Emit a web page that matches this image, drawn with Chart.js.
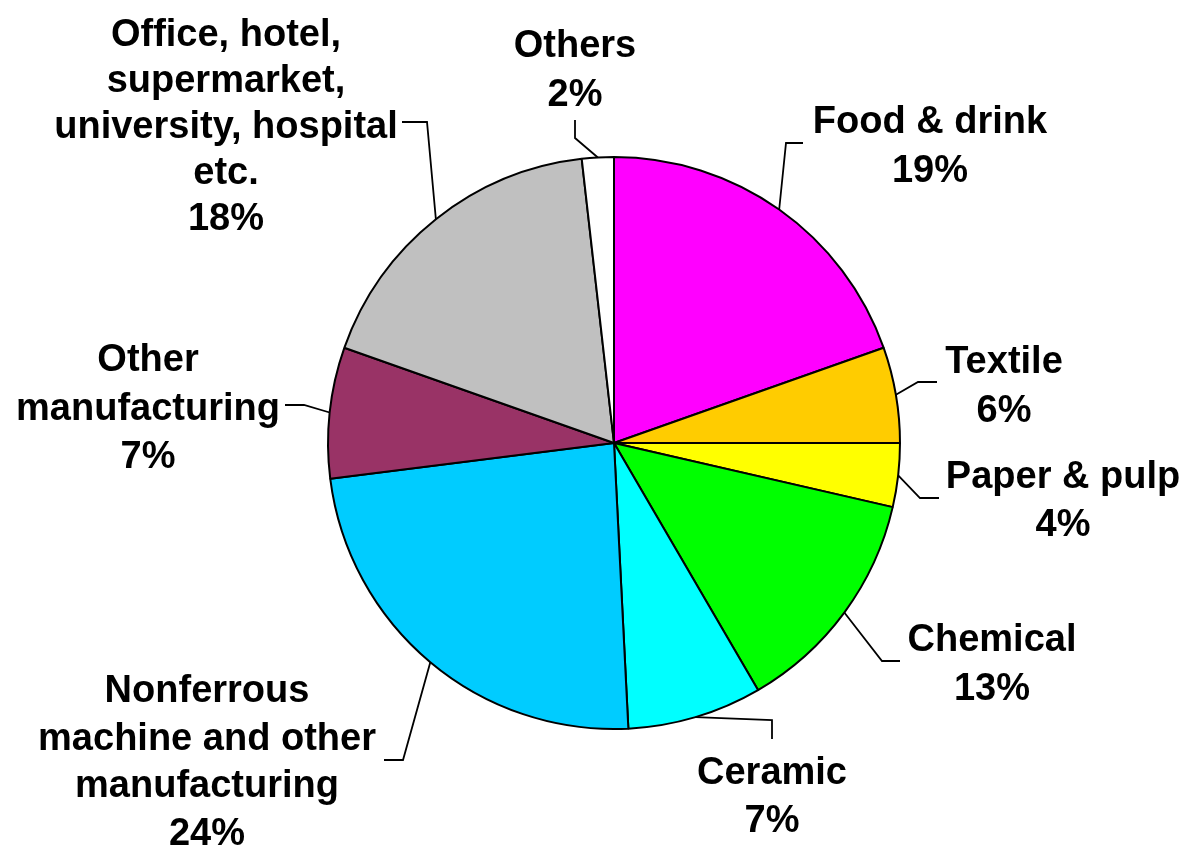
<!DOCTYPE html>
<html>
<head>
<meta charset="utf-8">
<script src="https://cdn.jsdelivr.net/npm/chart.js@4.4.1/dist/chart.umd.min.js"></script>
<style>
  html, body { margin: 0; padding: 0; background: #fff; }
  #wrap { width: 1189px; height: 847px; }
</style>
</head>
<body>
<div id="wrap"><canvas id="pieChart"></canvas></div>
<script>
// data, clockwise from 12 o'clock
const categories = [
  "Food & drink", "Textile", "Paper & pulp", "Chemical", "Ceramic",
  "Nonferrous machine and other manufacturing", "Other manufacturing",
  "Office, hotel, supermarket, university, hospital etc.", "Others"
];
const shares = [19.6, 5.4, 3.6, 13.0, 7.6, 23.8, 7.4, 17.8, 1.8];
const percentLabels = ["19%", "6%", "4%", "13%", "7%", "24%", "7%", "18%", "2%"];
const sliceColors = [
  "#FF00FF", "#FFCC00", "#FFFF00", "#00FF00", "#00FFFF",
  "#00CCFF", "#993366", "#C0C0C0", "#FFFFFF"
];

// label text broken into lines, and where they sit (px from the pie centre)
const labelLines = [
  ["Food & drink"],
  ["Textile"],
  ["Paper & pulp"],
  ["Chemical"],
  ["Ceramic"],
  ["Nonferrous", "machine and other", "manufacturing"],
  ["Other", "manufacturing"],
  ["Office, hotel,", "supermarket,", "university, hospital", "etc."],
  ["Others"]
];
const labelPos = [
  { x: 316, y: -310, lh: 49, elbow: [172, -300], end: [189, -300] },
  { x: 390, y: -70, lh: 49, elbow: [304, -61], end: [323, -61] },
  { x: 449, y: 45, lh: 48, elbow: [306, 55], end: [325, 55] },
  { x: 378, y: 208, lh: 49, elbow: [268, 218], end: [286, 218] },
  { x: 158, y: 341, lh: 48, elbow: [158, 277], end: [158, 296] },
  { x: -407, y: 259, lh: 47.5, elbow: [-211, 317], end: [-230, 317] },
  { x: -466, y: -72, lh: 48.5, elbow: [-310, -38], end: [-329, -38] },
  { x: -388, y: -397, lh: 46, elbow: [-187, -321], end: [-212, -321] },
  { x: -39, y: -386, lh: 49, elbow: [-39, -305], end: [-39, -323] }
];

const pieLabels = {
  id: "pieLabels",
  afterDatasetsDraw(chart) {
    const ctx = chart.ctx;
    const meta = chart.getDatasetMeta(0);
    ctx.save();
    ctx.font = "bold 38px 'Liberation Sans', Arial, sans-serif";
    ctx.textAlign = "center";
    ctx.textBaseline = "alphabetic";
    ctx.fillStyle = "#000";
    ctx.strokeStyle = "#000";
    ctx.lineWidth = 1.8;
    meta.data.forEach((arc, i) => {
      const p = arc.getProps(["x", "y", "startAngle", "endAngle", "outerRadius"], true);
      const mid = (p.startAngle + p.endAngle) / 2;
      const ax = p.x + Math.cos(mid) * p.outerRadius;
      const ay = p.y + Math.sin(mid) * p.outerRadius;
      const pos = labelPos[i];
      ctx.beginPath();
      ctx.moveTo(ax, ay);
      ctx.lineTo(p.x + pos.elbow[0], p.y + pos.elbow[1]);
      ctx.lineTo(p.x + pos.end[0], p.y + pos.end[1]);
      ctx.stroke();
      const lines = labelLines[i].concat([percentLabels[i]]);
      lines.forEach((t, k) => {
        ctx.fillText(t, p.x + pos.x, p.y + pos.y + k * pos.lh);
      });
    });
    ctx.restore();
  }
};

new Chart(document.getElementById("pieChart"), {
  type: "pie",
  data: {
    labels: categories,
    datasets: [{
      data: shares,
      backgroundColor: sliceColors,
      borderColor: "#000",
      borderWidth: 2
    }]
  },
  options: {
    responsive: true,
    maintainAspectRatio: false,
    animation: false,
    layout: { padding: { top: 156, bottom: 117, left: 327, right: 288 } },
    plugins: {
      legend: { display: false },
      tooltip: { enabled: false }
    }
  },
  plugins: [pieLabels]
});
</script>
</body>
</html>
